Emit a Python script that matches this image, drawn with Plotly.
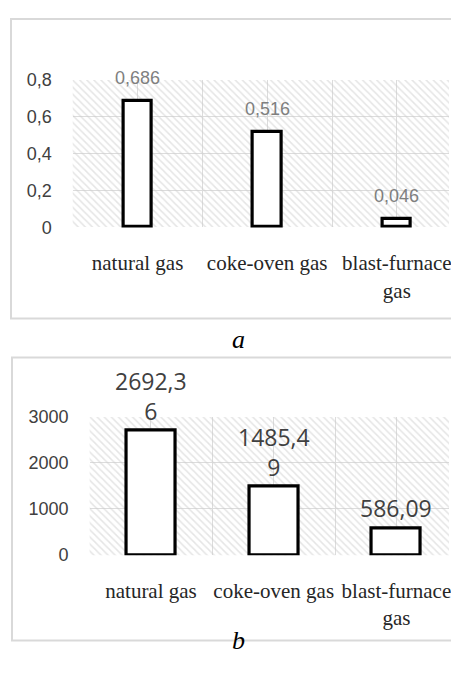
import plotly.graph_objects as go

# ---- data ----
categories = ["natural gas", "coke-oven gas", "blast-furnace<br>gas"]
values_a = [0.686, 0.516, 0.046]
labels_a = ["0,686", "0,516", "0,046"]
values_b = [2692.36, 1485.49, 586.09]
labels_b = ["2692,3<br>6", "1485,4<br>9", "586,09"]
yticks_a = [0, 0.2, 0.4, 0.6, 0.8]
yticktext_a = ["0", "0,2", "0,4", "0,6", "0,8"]
yticks_b = [0, 1000, 2000, 3000]
yticktext_b = ["0", "1000", "2000", "3000"]
panel_letters = ["a", "b"]

VW, VH = 459, 675          # browser window
OFF = 8                    # default page body margin
W, H = VW - 2 * OFF, VH - 2 * OFF
xpos = list(range(len(categories)))

fig = go.Figure()

HATCH = dict(shape="\\", fgcolor="#cccccc", bgcolor="rgba(0,0,0,0)", size=5,
             solidity=0.3, fillmode="overlay")

def add_panel(xa, ya, vals, ymax, width):
    # hatched plot-area background
    fig.add_trace(go.Bar(x=[1], y=[ymax], width=[3.2], xaxis=xa, yaxis=ya,
                         marker=dict(color="rgba(0,0,0,0)", line=dict(width=0), pattern=HATCH),
                         hoverinfo="skip", showlegend=False))
    fig.add_trace(go.Bar(x=xpos, y=vals, width=width, xaxis=xa, yaxis=ya,
                         marker=dict(color="white", line=dict(color="black", width=3.2)),
                         showlegend=False))

add_panel("x", "y", values_a, yticks_a[-1], 0.22)
add_panel("x2", "y2", values_b, yticks_b[-1], 0.40)

# geometry given in window pixels
def px_x(p):
    return (p - OFF) / W

def px_y(p):
    return 1 - (p - OFF) / H

top_left, top_unit = 73, 133.0
bot_left, bot_unit = 90, 126.0

grid = "#dcdcdc"
xcommon = dict(
    tickmode="array", tickvals=xpos, ticktext=categories,
    showgrid=True, gridcolor=grid, gridwidth=1,
    minor=dict(tickmode="array", tickvals=[-0.5, 0.5, 1.5, 2.5], showgrid=True,
               gridcolor=grid, gridwidth=1),
    tickfont=dict(family="Liberation Serif", size=21, color="#262626"),
    ticks="", showline=False, zeroline=False, ticklabelstandoff=21,
    ticklabeloverflow="allow",
)
ycommon = dict(
    tickmode="array", showgrid=True, gridcolor=grid, gridwidth=1,
    tickfont=dict(family="Liberation Sans", size=18, color="#404040"),
    ticks="", showline=False, zeroline=False, ticklabelstandoff=20,
)

fig.update_layout(
    width=W, height=H, autosize=False,
    margin=dict(l=0, r=0, t=0, b=0, pad=0),
    paper_bgcolor="white", plot_bgcolor="white",
    barmode="overlay", bargap=0,
    xaxis=dict(xcommon, domain=[px_x(top_left), 1], anchor="y",
               range=[-0.5, -0.5 + (VW - top_left) / top_unit]),
    yaxis=dict(ycommon, domain=[px_y(224), px_y(72)], anchor="x",
               range=[0, yticks_a[-1]], tickvals=yticks_a, ticktext=yticktext_a),
    xaxis2=dict(xcommon, domain=[px_x(bot_left), 1], anchor="y2",
                range=[-0.5, -0.5 + (VW - bot_left) / bot_unit]),
    yaxis2=dict(ycommon, domain=[px_y(562), px_y(419)], anchor="x2",
                range=[0, yticks_b[-1]], tickvals=yticks_b, ticktext=yticktext_b),
)

annotations = []
for i, (v, t) in enumerate(zip(values_a, labels_a)):
    annotations.append(dict(x=i, y=v, xref="x", yref="y", text=t, showarrow=False,
                            yanchor="middle", yshift=23,
                            font=dict(family="Liberation Sans", size=18, color="#7f7f7f")))
for i, (v, t) in enumerate(zip(values_b, labels_b)):
    annotations.append(dict(x=i, y=v, xref="x2", yref="y2", text=t, showarrow=False,
                            yanchor="bottom", yshift=2,
                            font=dict(family="Open Sans", size=23, color="#404040")))
# panel letters
annotations.append(dict(x=px_x(240), y=px_y(340), xref="paper", yref="paper",
                        text="<i>%s</i>" % panel_letters[0], showarrow=False,
                        xanchor="center", yanchor="middle",
                        font=dict(family="Liberation Serif", size=26, color="black")))
annotations.append(dict(x=px_x(240), y=0, xref="paper", yref="paper",
                        text="<i>%s</i>" % panel_letters[1], showarrow=False,
                        xanchor="center", yanchor="bottom",
                        font=dict(family="Liberation Serif", size=26, color="black")))
fig.update_layout(annotations=annotations)

# panel frames
border = "#d9d9d9"
fig.add_shape(type="rect", xref="paper", yref="paper",
              x0=px_x(11), x1=1.2, y0=px_y(318), y1=px_y(9),
              line=dict(color=border, width=2), fillcolor="rgba(0,0,0,0)", layer="below")
fig.add_shape(type="rect", xref="paper", yref="paper",
              x0=px_x(12), x1=1.2, y0=px_y(650), y1=px_y(358),
              line=dict(color=border, width=2), fillcolor="rgba(0,0,0,0)", layer="below")

fig.write_html("out.html")
